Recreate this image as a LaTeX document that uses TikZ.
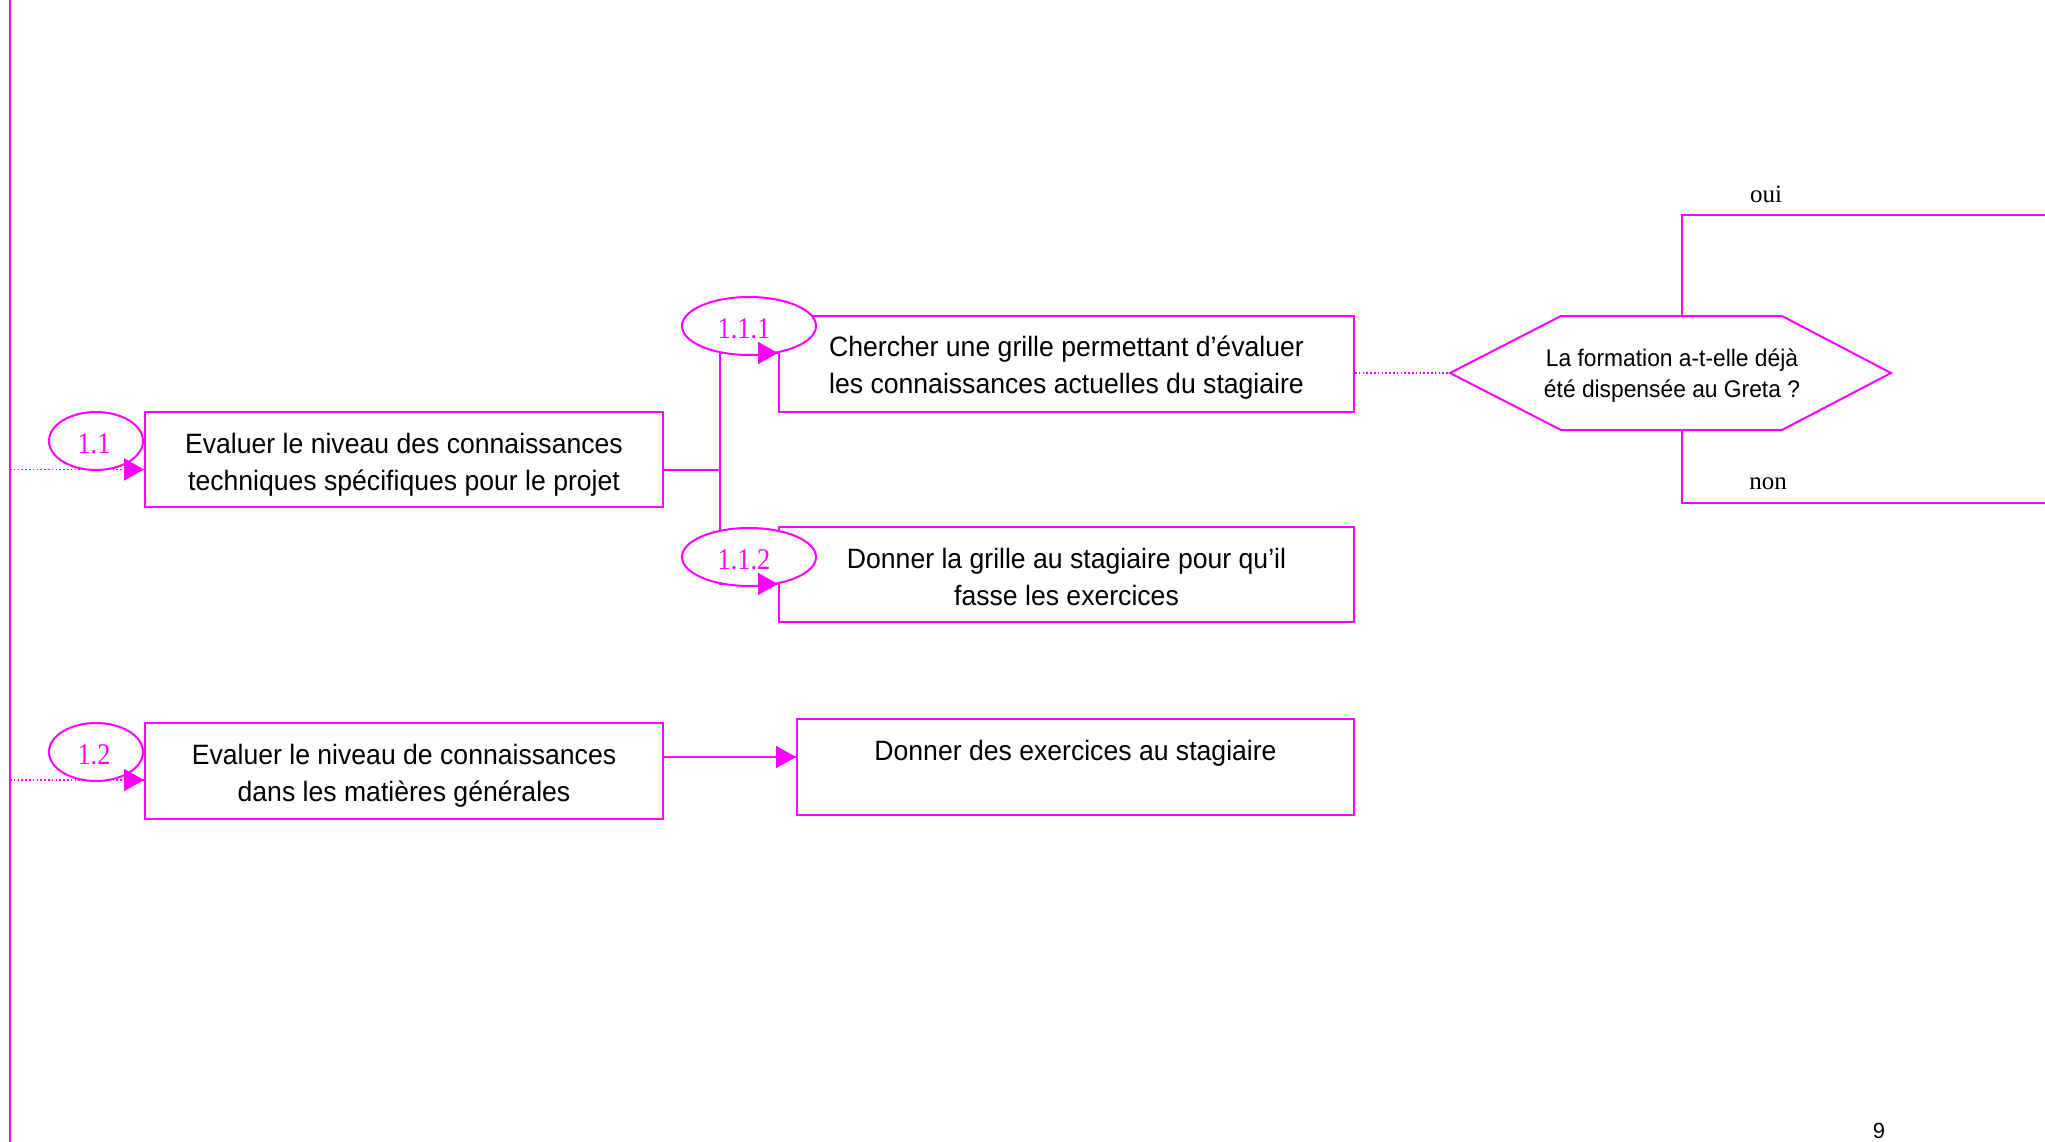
\documentclass[tikz,border=0pt]{standalone}
\usepackage{fontspec}
\setmainfont{Liberation Sans}[FakeStretch=0.95]
\newfontfamily\labelfont{Liberation Serif}[FakeStretch=0.88]
\newfontfamily\answerfont{Liberation Serif}
\newfontfamily\pagefont{Liberation Sans}
\usetikzlibrary{arrows.meta,shapes.geometric}
\definecolor{mag}{RGB}{255,0,255}

\begin{document}
\begin{tikzpicture}[x=1pt,y=-1pt,
  every node/.style={inner sep=0pt},
  box/.style={draw=mag, line width=2pt},
  txt/.style={align=center, font=\fontsize{28}{37}\selectfont},
  num/.style={ellipse, draw=mag, fill=white, line width=2pt, minimum height=58pt},
  numtxt/.style={text=mag, font=\labelfont\fontsize{30}{32}\selectfont},
  link/.style={draw=mag, line width=2pt},
  tip/.style={draw=mag, fill=mag, line width=2pt, -{Triangle[length=20pt,width=22pt]}},
  dots/.style={draw=mag, line width=1.6pt, dash pattern=on 1.6pt off 2.2pt},
  answer/.style={font=\answerfont\fontsize{25}{28}\selectfont},
  question/.style={align=center, font=\fontsize{24}{31}\selectfont}
]
\useasboundingbox (0,0) rectangle (2045,1142);

% left margin rule
\coordinate (spineTop) at (10,0);
\coordinate (spineBot) at (10,1142);
\draw[link] (spineTop) -- (spineBot);

% task boxes
\node[box, minimum width=518pt, minimum height=95pt] (b11) at (404,459.5) {};
\node[box, minimum width=575pt, minimum height=96pt] (b111) at (1066.5,364) {};
\node[box, minimum width=575pt, minimum height=95pt] (b112) at (1066.5,574.5) {};
\node[box, minimum width=518pt, minimum height=96pt] (b12) at (404,771) {};
\node[box, minimum width=557pt, minimum height=96pt] (b2) at (1075.5,767) {};

% task texts (canvas shifts: negative moves down)
\node[txt, yshift=-5pt] (b11t) at (b11.center)
  {Evaluer le niveau des connaissances\\techniques spécifiques pour le projet};
\node[txt, yshift=-4pt] (b111t) at (b111.center)
  {Chercher une grille permettant d’évaluer\\les connaissances actuelles du stagiaire};
\node[txt, yshift=-2pt] (b112t) at (b112.center)
  {Donner la grille au stagiaire pour qu’il\\fasse les exercices};
\node[txt, yshift=-5pt] (b12t) at (b12.center)
  {Evaluer le niveau de connaissances\\dans les matières générales};
\node[txt, anchor=base] (b2t) at ([yshift=7pt]b2.center)
  {Donner des exercices au stagiaire};

% decision hexagon
\coordinate (qW) at (1450,373);
\coordinate (qNW) at (1561,316);
\coordinate (qNE) at (1782,316);
\coordinate (qE) at (1891,373);
\coordinate (qSE) at (1782,430);
\coordinate (qSW) at (1561,430);
\draw[link] (qW) -- (qNW) -- (qNE) -- (qE) -- (qSE) -- (qSW) -- cycle;
\node[question] (q) at (1672,376) {La formation a-t-elle déjà\\été dispensée au Greta ?};

% yes / no branches
\coordinate (qN) at (1682,316);
\coordinate (qS) at (1682,430);
\coordinate (ouiEnd) at (2045,215);
\coordinate (nonEnd) at (2045,503);
\draw[link] (qN) |- (ouiEnd);
\draw[link] (qS) |- (nonEnd);
\node[answer] (oui) at (1766,194) {oui};
\node[answer] (non) at (1768,484) {non};

% connector anchor points
\path (b11.west) ++(0,10) coordinate (t11);
\path (b11.east) ++(0,10) coordinate (o11);
\path (b111.west) ++(0,-11) coordinate (t111);
\path (b112.west) ++(0,9.5) coordinate (t112);
\path (b12.west) ++(0,9) coordinate (t12);
\path (b12.east) ++(0,-14) coordinate (o12);
\coordinate (t2) at (b2.west |- o12);
\coordinate (fork) at (720,469.5);

% connector lines
\draw[dots] (spineTop |- t11) -- (t11);
\draw[dots] (spineTop |- t12) -- (t12);
\draw[dots] (qW -| b111.east) -- (qW);
\draw[link] (o11) -- (fork);
\draw[link] (fork) |- (t111);
\draw[link] (fork) |- (t112);
\draw[link] (o12) -- (t2);

% step numbers
\node[num, minimum width=94pt] (e11) at (96,441) {};
\node[num, minimum width=134pt] (e111) at (749,326) {};
\node[num, minimum width=134pt] (e112) at (749,557) {};
\node[num, minimum width=94pt] (e12) at (96,752) {};
\node[numtxt, yshift=-3pt, xshift=-2pt] (e11t) at (e11.center) {1.1};
\node[numtxt, yshift=-3pt, xshift=-5pt] (e111t) at (e111.center) {1.1.1};
\node[numtxt, yshift=-3pt, xshift=-5pt] (e112t) at (e112.center) {1.1.2};
\node[numtxt, yshift=-3pt, xshift=-2pt] (e12t) at (e12.center) {1.2};

% arrow heads on top
\draw[tip] (t11) ++(-2,0) -- (t11);
\draw[tip] (t12) ++(-2,0) -- (t12);
\draw[tip] (t111) ++(-2,0) -- (t111);
\draw[tip] (t112) ++(-2,0) -- (t112);
\draw[tip] (t2) ++(-2,0) -- (t2);

% page number
\node[font=\pagefont\fontsize{22}{24}\selectfont] (pg) at (1879,1131) {9};
\end{tikzpicture}
\end{document}
